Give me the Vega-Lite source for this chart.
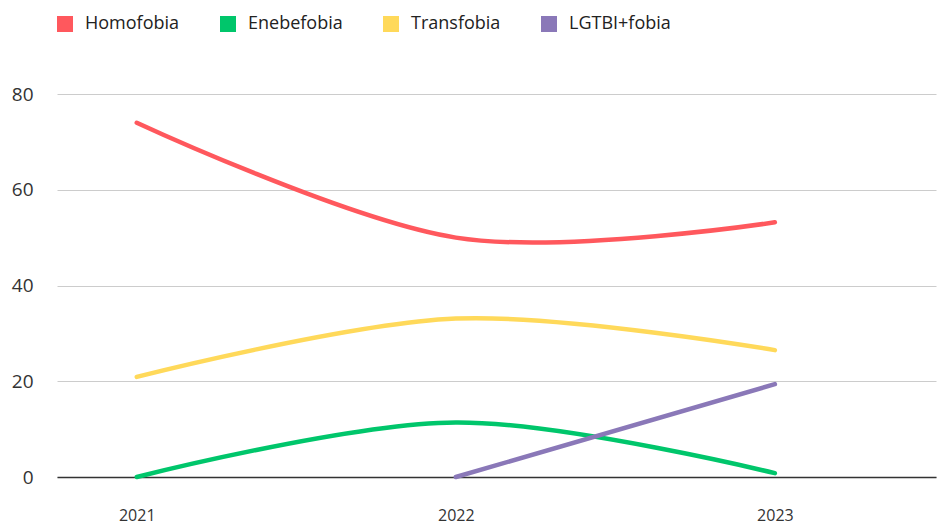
{
  "$schema": "https://vega.github.io/schema/vega-lite/v6.json",
  "autosize": {"type": "none"},
  "width": 879,
  "height": 383,
  "padding": {"left": 57, "top": 94, "right": 3, "bottom": 48},
  "config": {
    "view": {"stroke": null},
    "font": "Open Sans",
    "axis": {"labelFont": "Open Sans", "labelColor": "#333333"},
    "legend": {"labelFont": "Open Sans"}
  },
  "data": {
    "values": [
      {"year": 2021, "serie": "Homofobia", "value": 74},
      {"year": 2022, "serie": "Homofobia", "value": 50},
      {"year": 2023, "serie": "Homofobia", "value": 53.2},
      {"year": 2021, "serie": "Enebefobia", "value": 0},
      {"year": 2022, "serie": "Enebefobia", "value": 11.4},
      {"year": 2023, "serie": "Enebefobia", "value": 0.8},
      {"year": 2021, "serie": "Transfobia", "value": 20.9},
      {"year": 2022, "serie": "Transfobia", "value": 33.1},
      {"year": 2023, "serie": "Transfobia", "value": 26.5},
      {"year": 2022, "serie": "LGTBI+fobia", "value": 0},
      {"year": 2023, "serie": "LGTBI+fobia", "value": 19.4}
    ]
  },
  "mark": {"type": "line", "interpolate": "cardinal", "strokeWidth": 4.5, "strokeCap": "round", "clip": false},
  "encoding": {
    "x": {
      "field": "year",
      "type": "quantitative",
      "scale": {"domain": [2020.75, 2023.505], "nice": false, "zero": false},
      "axis": {
        "values": [2021, 2022, 2023],
        "format": "d",
        "title": null,
        "grid": false,
        "ticks": false,
        "domain": true,
        "domainColor": "#333333",
        "domainWidth": 1.5,
        "labelPadding": 30,
        "labelFontSize": 16
      }
    },
    "y": {
      "field": "value",
      "type": "quantitative",
      "scale": {"domain": [0, 80], "nice": false},
      "axis": {
        "values": [0, 20, 40, 60, 80],
        "title": null,
        "domain": false,
        "ticks": false,
        "gridColor": "#cccccc",
        "gridWidth": 1,
        "labelPadding": 24,
        "labelFontSize": 19
      }
    },
    "color": {
      "field": "serie",
      "type": "nominal",
      "scale": {
        "domain": ["Homofobia", "Enebefobia", "Transfobia", "LGTBI+fobia"],
        "range": ["#ff585d", "#00c66b", "#ffd95a", "#8a78b8"]
      },
      "legend": {
        "orient": "none",
        "direction": "horizontal",
        "legendX": -1,
        "legendY": -79,
        "title": null,
        "symbolType": "square",
        "symbolSize": 256,
        "symbolStrokeWidth": 0,
        "symbolOpacity": 1,
        "labelFontSize": 18,
        "labelColor": "#222222",
        "labelOffset": 11,
        "columnPadding": 39,
        "encode": {
          "symbols": {
            "update": {
              "shape": {"value": "square"},
              "angle": {"value": 0},
              "fill": {"scale": "color", "field": "value"},
              "fillOpacity": {"value": 1},
              "strokeWidth": {"value": 0}
            }
          }
        }
      }
    }
  }
}
